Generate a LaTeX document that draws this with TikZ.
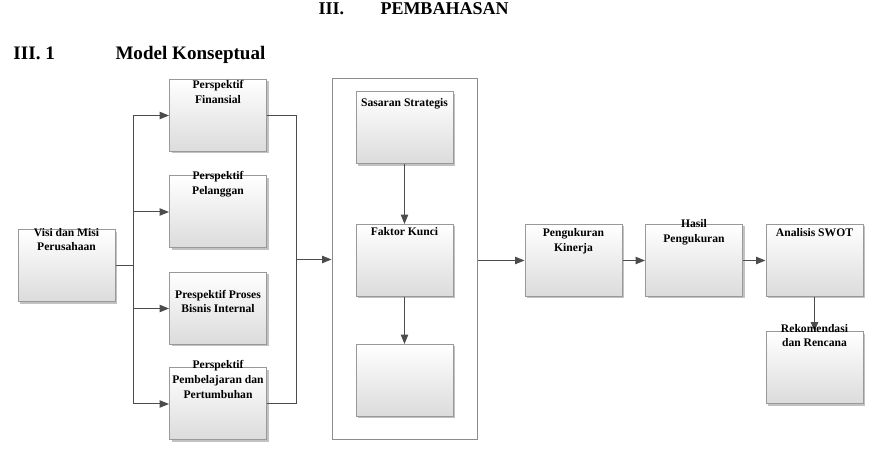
\documentclass[tikz,border=0pt]{standalone}
\usepackage{fontspec}
\setmainfont{Liberation Serif}
\usetikzlibrary{arrows.meta,shadows}

\tikzset{every picture/.style={line width=0.75pt}}
\tikzset{
  kotak/.style={draw=black!40, top color=white, bottom color=black!14, minimum width=72.75pt, minimum height=54pt, inner sep=0pt,
    drop shadow={shadow xshift=1.5pt, shadow yshift=-1.5pt, fill=black!40, opacity=.6}},
  wadah/.style={draw=black!45, fill=white, minimum width=108.75pt, minimum height=270.75pt, inner sep=0pt},
  teks/.style={font=\fontsize{8.7}{11}\selectfont\bfseries, align=center, inner sep=0pt},
  judul/.style={font=\fontsize{13.5}{16}\selectfont\bfseries, inner sep=0pt, anchor=base west},
  subjudul/.style={font=\fontsize{14.3}{16}\selectfont\bfseries, inner sep=0pt, anchor=base west},
  garis/.style={draw=black!70},
  panah/.style={draw=black!70, -{Triangle[length=7pt,width=5.5pt]}}
}

\begin{document}
\begin{tikzpicture}[x=0.75pt,y=0.75pt,yscale=-1,xscale=1]
\useasboundingbox (0,0) rectangle (872,452);

% judul
\node[judul] (bab) at (318,15) {III.};
\node[judul] (bab-t) at (380,15) {PEMBAHASAN};
\node[subjudul] (sub) at (13,60) {III. 1};
\node[subjudul] (sub-t) at (115,60) {Model Konseptual};

% kotak
\node[kotak] (visi) at (66.5,266) {};
\node[kotak] (fin) at (218,115.5) {};
\node[kotak] (pel) at (218,212) {};
\node[kotak] (pro) at (218,308.5) {};
\node[kotak] (pem) at (218,404) {};
\node[wadah] (besar) at (404.5,259.5) {};
\node[kotak] (sas) at (404.5,128) {};
\node[kotak] (fak) at (404.5,260.5) {};
\node[kotak] (kosong) at (404.5,380.5) {};
\node[kotak] (ukur) at (573.5,260.5) {};
\node[kotak] (hasil) at (694,260.5) {};
\node[kotak] (swot) at (814.5,260.5) {};
\node[kotak] (rek) at (814.5,368) {};

% penghubung
\coordinate (cabang) at (133,266);
\coordinate (kumpul) at (296,259.5);
\draw[garis] (visi.east) -- (cabang);
\foreach \b in {fin,pel,pro,pem}
  \draw[panah] (cabang) |- (\b.west);
\draw[garis] (fin.east) -| (kumpul);
\draw[garis] (pem.east) -| (kumpul);
\draw[panah] (kumpul) -- (besar.west);
\draw[panah] (sas.south) -- (fak.north);
\draw[panah] (fak.south) -- (kosong.north);
\draw[panah] (besar.east |- ukur.west) -- (ukur.west);
\draw[panah] (ukur.east) -- (hasil.west);
\draw[panah] (hasil.east) -- (swot.west);
\draw[panah] (swot.south) -- (rek.north);

% teks kotak
\node[teks] (visi-t) at (66.5,239.5) {Visi dan Misi\\Perusahaan};
\node[teks] (fin-t) at (218,92) {Perspektif\\Finansial};
\node[teks] (pel-t) at (218,184) {Perspektif\\Pelanggan};
\node[teks] (pro-t) at (218,301.5) {Prespektif Proses\\Bisnis Internal};
\node[teks] (pem-t) at (218,379.5) {Perspektif\\Pembelajaran dan\\Pertumbuhan};
\node[teks] (sas-t) at (404.5,104) {Sasaran Strategis};
\node[teks] (fak-t) at (404.5,232) {Faktor Kunci};
\node[teks] (ukur-t) at (573.5,241) {Pengukuran\\Kinerja};
\node[teks] (hasil-t) at (694,232.5) {Hasil\\Pengukuran};
\node[teks] (swot-t) at (814.5,233) {Analisis SWOT};
\node[teks] (rek-t) at (814.5,335.5) {Rekomendasi\\dan Rencana};

\end{tikzpicture}
\end{document}
